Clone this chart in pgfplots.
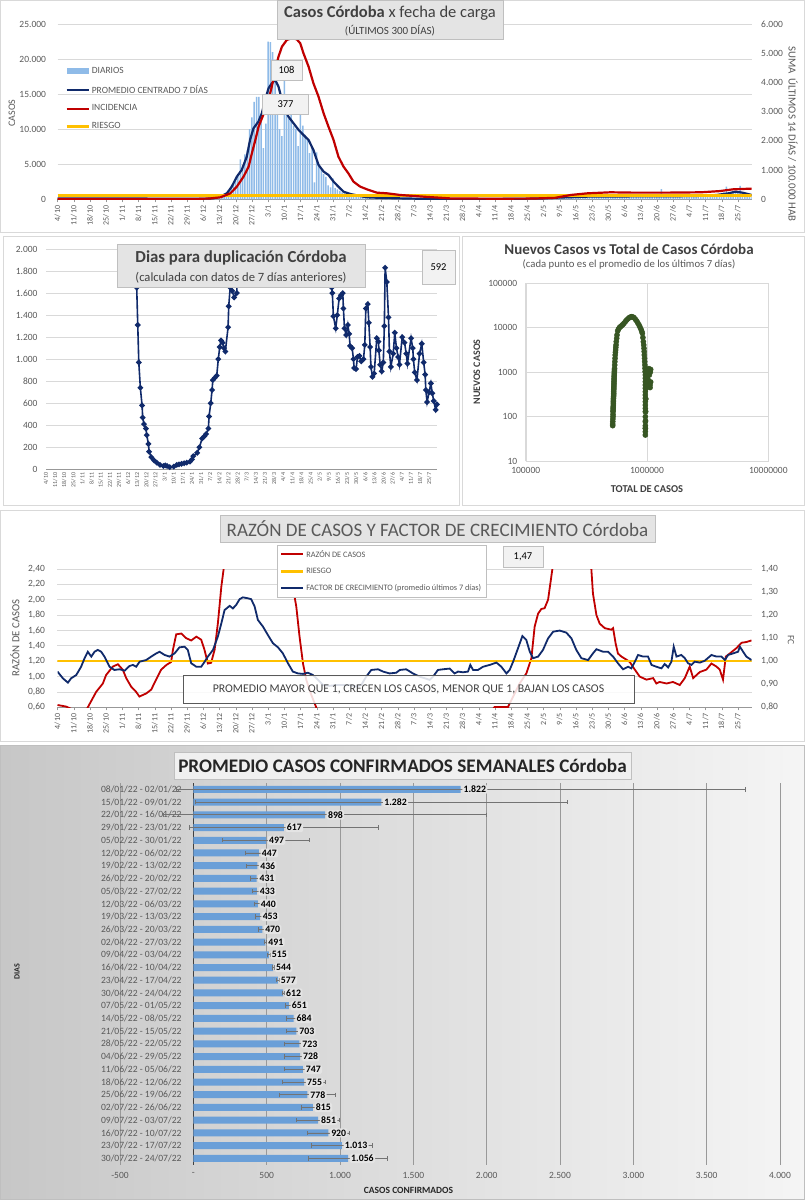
\documentclass[border=0pt]{standalone}
\usepackage{fontspec}
\setmainfont{Carlito}
\usepackage{pgfplots}
\pgfplotsset{compat=1.18}
\newcommand{\fs}[1]{\fontsize{#1}{#1}\selectfont}

\definecolor{navy}{HTML}{102A6B}
\definecolor{rojo}{HTML}{C00000}
\definecolor{amarillo}{HTML}{FFC000}
\definecolor{celeste}{HTML}{6A9FD8}
\definecolor{celesteclaro}{HTML}{8FBBE8}
\definecolor{verde}{HTML}{375623}
\definecolor{gristxt}{HTML}{595959}
\definecolor{grisosc}{HTML}{404040}
\definecolor{grilla}{HTML}{D9D9D9}
\definecolor{caja}{HTML}{E4E4E4}
\definecolor{borde}{HTML}{BFBFBF}

\pgfplotsset{
  lineleg/.style={legend image code/.code={\draw[##1] (0pt,0pt) -- (22pt,0pt);}},
  barleg/.style={legend image code/.code={\fill[##1] (0pt,-3pt) rectangle (22pt,3pt);}},
  base/.style={scale only axis, anchor=south west,
    /pgf/number format/assume math mode=true,
    tick label style={text=gristxt}},
  fechas/.style={xmin=0, xmax=300, xtick={0,7,...,294},
    xticklabels={4/10,11/10,18/10,25/10,1/11,8/11,15/11,22/11,29/11,6/12,13/12,20/12,27/12,3/1,10/1,17/1,24/1,31/1,7/2,14/2,21/2,28/2,7/3,14/3,21/3,28/3,4/4,11/4,18/4,25/4,2/5,9/5,16/5,23/5,30/5,6/6,13/6,20/6,27/6,4/7,11/7,18/7,25/7},
    x tick label style={rotate=90, anchor=east}},
  coma/.style={/pgf/number format/fixed, /pgf/number format/fixed zerofill,
    /pgf/number format/precision=2, /pgf/number format/use comma},
}

\begin{document}
\begin{tikzpicture}
\useasboundingbox (0pt,0pt) rectangle (805pt,-1200pt);
\fill[white] (0pt,0pt) rectangle (805pt,-1200pt);
% marcos de los paneles
\draw[grilla] (0.5pt,-0.5pt) rectangle (804.5pt,-232pt);
\draw[grilla] (3pt,-236pt) rectangle (459pt,-505pt);
\draw[grilla] (462pt,-236pt) rectangle (804.5pt,-505pt);
\draw[grilla] (0.5pt,-510pt) rectangle (804.5pt,-741pt);
\shade[left color=black!22, right color=black!4] (0pt,-745pt) rectangle (805pt,-1200pt);
\draw[borde] (0.5pt,-745pt) rectangle (804.5pt,-1199.5pt);

%% ---------- Panel 1: casos ----------
\begin{axis}[base, fechas, at={(57.5pt,-199.3pt)}, width=694.2pt, height=175.3pt,
  ymin=0, ymax=25000, ytick={0,5000,...,25000}, scaled y ticks=false,
  ymajorgrids, grid style={grilla, line width=0.8pt},
  axis x line*=bottom, axis y line*=left, y axis line style={draw=none},
  x axis line style={grilla!70!black}, ytick style={draw=none},
  xtick style={grilla!70!black}, tick align=outside, major tick length=3pt,
  y tick label style={font=\fs{9.5}, xshift=-5pt, /pgf/number format/1000 sep={.}},
  x tick label style={font=\fs{8}},
  lineleg, legend cell align=left,
  legend style={at={(0.0065,0.778)}, anchor=north west, draw=none, fill=none,
    font=\fs{9.5}, text=gristxt, row sep=6.3pt}]
\addplot[ybar, bar width=1.5pt, bar shift=0pt, fill=celesteclaro, draw=none, barleg] table {
x y
60 100
61 120
62 110
63 130
64 150
65 140
66 150
67 200
68 300
69 350
70 450
71 600
72 800
73 1000
74 1300
75 1900
76 2200
77 2700
78 3600
79 5700
80 4500
81 6400
82 7000
83 10000
84 11700
85 13900
86 14600
87 14600
88 11000
89 7300
90 10800
91 22500
92 22400
93 21000
94 17500
95 14000
96 10000
97 9000
98 17500
99 12000
100 11500
101 12000
102 10500
103 10000
104 7600
105 12000
106 10500
107 9200
108 8500
109 6600
110 7500
111 2400
112 6700
113 5000
114 4200
115 3600
116 3200
117 2000
118 1700
119 3000
120 1600
121 1400
122 1200
123 1000
124 900
125 800
126 700
127 600
128 500
129 400
130 450
131 350
132 300
133 280
134 250
135 220
137 200
139 170
141 150
143 130
145 120
147 110
149 100
151 90
153 80
155 70
157 60
159 60
161 50
163 50
165 45
167 40
169 40
171 40
173 45
175 45
177 50
179 50
181 55
183 55
185 60
187 60
189 65
191 70
193 70
195 75
197 80
199 85
201 90
203 100
205 120
207 150
209 180
211 250
212 280
213 300
214 320
215 330
216 300
217 350
218 380
219 360
220 400
221 380
222 420
223 350
224 400
225 450
226 420
227 380
228 400
229 450
230 500
231 420
232 380
233 400
234 450
235 500
236 420
237 400
238 380
239 450
240 480
241 400
242 350
243 420
244 460
245 380
246 400
247 450
248 420
249 380
250 400
251 450
252 480
253 420
254 380
255 400
256 450
257 420
258 400
259 380
260 500
261 1450
262 420
263 400
264 450
265 380
266 420
267 460
268 400
269 380
270 420
271 450
272 480
273 400
274 420
275 460
276 500
277 450
278 420
279 480
280 520
281 500
282 460
283 550
284 600
285 700
286 800
287 900
288 1000
289 1800
290 900
291 1000
292 1100
293 1200
294 1000
295 1900
296 900
297 700
298 600
299 500
300 400
};
\addlegendentry{DIARIOS}
\addplot[navy, line width=2.2pt] coordinates {
(0,120) (20,110) (40,100) (60,90) (65,100) (67.4,150) (70.4,380) (73.2,855)
(75.3,1800) (77.5,3230) (79.6,4180) (81.8,6080) (83.2,8460) (84.7,10120)
(86.8,11070) (88.3,12260) (89.7,14160) (91.2,15830) (92.6,16540) (94.1,17020)
(95.5,16070) (97,14160) (98.4,12740) (99.8,11790) (102,10840) (104.2,9890)
(106.3,9170) (108.5,8460) (110.6,7030) (112.8,4900) (115,3950) (117.1,3470)
(119.3,2520) (121.4,1800) (123.6,1090) (126.5,760) (130.8,475) (133.7,285)
(140,200) (150,120) (160,60) (170,40) (180,50) (190,60) (200,80) (210,130)
(217,250) (225,330) (229,380) (240,400) (250,420) (260,430) (270,450)
(280,500) (285,620) (290,855) (293,1090) (296,950) (300,620)};
\addlegendentry{PROMEDIO CENTRADO 7 DÍAS}
\addlegendimage{rojo, line width=2.2pt}
\addlegendentry{INCIDENCIA}
\addplot[amarillo, line width=2.6pt] coordinates {(0,500) (300,500)};
\addlegendentry{RIESGO}
\end{axis}
\begin{axis}[base, at={(57.5pt,-199.3pt)}, width=694.2pt, height=175.3pt,
  xmin=0, xmax=300, ymin=0, ymax=6000, ytick={0,1000,...,6000}, scaled y ticks=false,
  axis x line=none, axis y line*=right, y axis line style={draw=none}, ytick style={draw=none},
  y tick label style={font=\fs{9.5}, xshift=6pt, /pgf/number format/1000 sep={.}}]
\addplot[rojo, line width=2.2pt] coordinates {
(0,12) (60,12) (66,30) (70.4,68) (74.7,205) (77.5,434) (80.4,776) (82.6,1118)
(84,1575) (85.5,2031) (86.9,2487) (89.2,2944) (91.2,3400) (92.6,3857) (94.1,4427)
(95.5,4883) (97,5226) (99.1,5454) (101.3,5511) (103.4,5477) (104.9,5340)
(106.3,4998) (108.5,4541) (110.6,3971) (112.8,3514) (115,2944) (117.1,2487)
(119.3,2031) (121.4,1460) (123.6,1118) (125.7,890) (127.9,605) (130.8,434)
(133.7,342) (138,228) (142.4,205) (148.1,148) (160,80) (170,30) (190,20)
(205,25) (215,50) (222,150) (229,205) (239,240) (249,228) (263,228) (278,240)
(286,280) (292,342) (300,365)};
\end{axis}
\node[fill=caja, draw=borde, minimum width=226pt, minimum height=39pt] at (390pt,-19.5pt) {};
\node[text=grisosc, font=\fs{16.5}] at (390pt,-13pt) {\textbf{Casos Córdoba} x fecha de carga};
\node[text=grisosc, font=\fs{11}] at (390pt,-30.5pt) {(ÚLTIMOS 300 DÍAS)};
\node[fill=white!95!black, draw=borde, minimum width=31pt, minimum height=20pt, font=\fs{10.5}, text=black] at (286.5pt,-70pt) {108};
\node[fill=white!95!black, draw=borde, minimum width=46pt, minimum height=20pt, font=\fs{10.5}, text=black] at (285.5pt,-104pt) {377};
\node[rotate=90, text=gristxt, font=\fs{10}] at (12pt,-113pt) {CASOS};
\node[rotate=-90, text=gristxt, font=\fs{10.8}] at (793pt,-134pt) {SUMA\ \ ÚLTIMOS 14 DÍAS / 100.000 HAB};

%% ---------- Panel 2: días para duplicación ----------
\begin{axis}[base, fechas, at={(46pt,-469.3pt)}, width=391pt, height=220.3pt,
  ymin=0, ymax=2000, ytick={0,200,...,2000}, scaled y ticks=false,
  ymajorgrids, grid style={grilla, line width=0.8pt},
  axis x line*=bottom, axis y line*=left, y axis line style={draw=none},
  x axis line style={grilla!70!black}, ytick style={draw=none}, xtick style={draw=none},
  y tick label style={font=\fs{9.5}, xshift=-5pt, /pgf/number format/1000 sep={.}},
  x tick label style={font=\fs{6}}]
\addplot[navy, line width=1.6pt, mark=*, mark size=1.9pt] coordinates {
(68.5,2600) (69.6,1650) (70.4,1310) (71.2,970) (72.4,740) (73.7,580) (74.2,470)
(75.2,410) (76.7,370) (77.3,310) (78.6,230) (79.1,160) (80.8,110) (82.9,80)
(85,60) (87.5,40) (90,30) (91.5,35) (93,30) (95,20) (98,25) (100.3,40) (102,45)
(104,50) (106,55) (108,60) (110.5,70) (112,90) (113,120) (116,150) (117.7,200)
(119.8,280) (121.5,300) (122.8,320) (124.6,370) (125.1,480) (126.4,600)
(127.4,720) (128,810) (129.5,830) (131,850) (132.2,1000) (133.3,1110)
(134.3,1170) (135.5,1150) (136.6,1100) (137.6,1070) (139.7,1290) (140.2,1480)
(141.3,1650) (142.8,1620) (144.4,1560) (146.4,1600) (147.2,2600)};
\addplot[navy, line width=1.6pt, mark=*, mark size=1.9pt] coordinates {
(218.8,2600) (219.2,1650) (219.7,1600) (220.5,1390) (222.3,1280) (223.5,1400)
(224.9,1550) (226.3,1580) (227.7,1600) (228.2,1460) (229,1280) (230.3,1220)
(231.6,1310) (232.6,1230) (233.3,1120) (234.9,1100) (235.9,1000) (236.4,920)
(237.9,910) (239,1020) (240.5,1030) (241.8,980) (243.6,1000) (244.6,1130)
(245.4,1460) (246.9,1500) (247.7,1330) (248.7,1110) (249.3,930) (250.5,840)
(251.8,870) (253.8,1190) (255.1,1160) (255.4,1080) (256.4,950) (257.6,890)
(258.8,970) (259.6,1300) (260.2,1830) (261.5,1700) (262.8,1380) (263.5,1070)
(264.6,930) (266.4,1050) (267.6,1240) (268.9,1100) (270.2,1020) (271.2,950)
(273.3,1200) (275.1,1150) (276.4,1050) (277.3,960) (280.1,1190) (281.4,1100)
(281.9,1000) (282.9,880) (284.6,810) (286.6,1050) (288.3,1140) (289.8,970)
(290.9,860) (291.4,720) (292.4,610) (293.9,700) (295.3,780) (296.4,690)
(297.5,620) (299,540) (300,590)};
\end{axis}
\node[fill=caja, draw=borde, minimum width=248pt, minimum height=43pt] at (241pt,-265.5pt) {};
\node[text=grisosc, font=\fs{16.8}\bfseries] at (241pt,-257.5pt) {Dias para duplicación Córdoba};
\node[text=grisosc, font=\fs{12.6}] at (241pt,-278pt) {(calculada con datos de 7 días anteriores)};
\node[fill=white!95!black, draw=borde, minimum width=33pt, minimum height=34pt, font=\fs{10.5}, text=black] at (438.5pt,-267pt) {592};

%% ---------- Panel 3: nuevos vs total ----------
\begin{axis}[base, at={(525.7pt,-461pt)}, width=242.6pt, height=177.7pt,
  xmode=log, ymode=log, xmin=1e5, xmax=1e7, ymin=10, ymax=1e5,
  xtick={1e5,1e6,1e7}, ytick={10,100,1000,10000,100000},
  xminorticks=false, yminorticks=false,
  log ticks with fixed point,
  grid=major, grid style={grilla, line width=0.8pt}, axis line style={grilla},
  tick style={draw=none},
  y tick label style={font=\fs{9.5}, xshift=-5pt, /pgf/number format/1000 sep={}},
  x tick label style={font=\fs{9.5}, yshift=-3pt, /pgf/number format/1000 sep={}}]
\addplot[only marks, mark=*, mark size=2.6pt, verde] coordinates {
(521200,62.5) (521200,68) (522000,76.9) (523000,88) (524600,99.6) (524600,112)
(524600,129) (525500,140) (526000,153) (526500,165) (527900,182) (527900,200)
(527900,217) (528500,235) (529000,258) (530000,280) (531300,306) (531300,335)
(531300,364) (532000,400) (532500,433) (533000,470) (533500,514) (534000,560)
(534600,611) (535000,670) (535500,726) (536000,800) (537000,864) (537500,950)
(538000,1026) (539000,1120) (540000,1220) (541400,1450) (543000,1724)
(545000,2048) (547000,2435) (549000,2800) (551000,3155) (553000,3600)
(555300,4089) (558000,4861) (562300,5778) (566000,6868) (573100,8450)
(582000,9300) (591600,10040) (605000,10600) (618400,11140) (632000,11800)
(646300,12570) (662000,13700) (679800,14940) (697000,15900) (715100,16870)
(731000,17400) (747400,17760) (764000,17400) (781400,16870) (801000,15500)
(821900,14190) (840000,12800) (859300,11530) (876000,10300) (892500,9215)
(905000,8300) (915200,7488) (925000,6000) (932800,4861) (939000,4100)
(944700,3440) (948000,2900) (950600,2435) (954000,2050) (956800,1724)
(960000,1450) (962800,1220) (965000,1026) (968900,864) (968900,726)
(968900,611) (968900,514) (968900,433) (968900,364) (968900,306) (968900,258)
(968900,217) (968900,182) (968900,153) (968900,129) (968900,99.6) (968900,76.9)
(968900,62.5) (968900,54.4) (968900,45.8) (968900,38.5) (970000,54) (972000,80)
(975000,130) (978000,250) (981300,433) (985000,600) (990000,800) (993800,1026)
(1000000,1150) (1006000,900) (1015000,700) (1026000,1100) (1035000,1200)
(1045000,864) (1050000,600) (1059000,514) (1065000,1000) (1072000,1150)
(1072000,600) (1060000,450)};
\end{axis}
\node[text=grisosc, font=\fs{15}\bfseries] at (629pt,-249pt) {Nuevos Casos vs Total de Casos Córdoba};
\node[text=gristxt, font=\fs{10.7}] at (629pt,-264.5pt) {(cada punto es el promedio de los últimos 7 días)};
\node[rotate=90, text=grisosc, font=\fs{10}\bfseries] at (477pt,-372pt) {NUEVOS CASOS};
\node[text=grisosc, font=\fs{10.5}\bfseries] at (647pt,-489pt) {TOTAL DE CASOS};

%% ---------- Panel 4: razón de casos y FC ----------
\begin{axis}[base, fechas, at={(57.5pt,-707.3pt)}, width=694.2pt, height=138.3pt,
  ymin=0.6, ymax=2.4, ytick={0.6,0.8,...,2.41},
  ymajorgrids, grid style={grilla, line width=0.8pt},
  axis x line*=bottom, axis y line*=left, y axis line style={draw=none},
  x axis line style={grilla!70!black}, ytick style={draw=none},
  xtick style={grilla!70!black}, tick align=outside, major tick length=3pt,
  y tick label style={font=\fs{9.5}, xshift=-6pt, coma},
  x tick label style={font=\fs{8}},
  lineleg, legend cell align=left,
  legend style={at={(0.316,1.174)}, anchor=north west, draw=borde, fill=white,
    font=\fs{8.3}, text=gristxt, row sep=5.5pt, inner sep=3pt}]
\addplot[rojo, line width=1.8pt] coordinates {
(0,0.63) (3.7,0.61) (5.9,0.58) (9,0.55) (12,0.55) (13.1,0.60) (16.7,0.80)
(19.6,0.91) (21,1.02) (23.9,1.13) (26.1,1.16) (28.2,1.09) (29.7,0.98) (31.8,0.87)
(34,0.80) (35.4,0.74) (38.3,0.78) (40.5,0.83) (42.6,0.96) (44.8,1.09) (47,1.15)
(49.1,1.19) (49.9,1.35) (51.3,1.55) (53.5,1.56) (55.6,1.50) (57.8,1.47) (60,1.52)
(62.1,1.48) (63.5,1.35) (65,1.17) (66.4,1.18) (67.9,1.35) (69.3,1.69) (70.8,2.17)
(71.8,2.40) (73,3.0) (80,5) (95,5) (101,3.0) (101.7,2.17) (103.2,1.91) (104.6,1.52)
(106.1,1.17) (107.5,0.96) (109.7,0.76) (111.8,0.60) (113,0.5) (120,0.4) (150,0.3)
(180,0.4) (186,0.5) (188.9,0.605) (194.7,0.605) (196.9,0.74) (199.7,0.91)
(202.6,1.04) (204.8,1.24) (206.2,1.65) (207.7,1.82) (209.1,1.88) (210.5,1.89)
(212,2.0) (213.4,2.30) (214.1,2.45) (215,3.0) (220,5) (230,3.0) (230.7,2.40)
(231.4,2.08) (232.9,1.80) (234.3,1.69) (236.5,1.63) (239.4,1.61) (240.1,1.63)
(241.2,1.43) (242.2,1.30) (243.7,1.26) (245.9,1.22) (247.3,1.19) (249.5,1.09)
(251.6,1.00) (254.5,0.96) (257.4,0.98) (258.8,0.91) (260.2,0.93) (263.2,0.91)
(266,0.93) (268.9,0.89) (271.1,0.98) (273.2,1.13) (274.7,0.98) (277.6,1.06)
(280.4,1.09) (282.6,1.17) (284.8,1.13) (286.2,1.09) (287.6,0.96) (288.8,1.26)
(290.5,1.30) (293.4,1.37) (295.6,1.44) (297.7,1.45) (299.9,1.47)};
\addlegendentry{RAZÓN DE CASOS}
\addplot[amarillo, line width=2.2pt] coordinates {(0,1.2) (300,1.2)};
\addlegendentry{RIESGO}
\addlegendimage{navy, line width=1.8pt}
\addlegendentry{FACTOR DE CRECIMIENTO (promedio últimos 7 días)}
\end{axis}
\begin{axis}[base, at={(57.5pt,-707.3pt)}, width=694.2pt, height=138.3pt,
  xmin=0, xmax=300, ymin=0.8, ymax=1.4, ytick={0.8,0.9,...,1.41},
  axis x line=none, axis y line*=right, y axis line style={draw=none}, ytick style={draw=none},
  y tick label style={font=\fs{9.5}, xshift=6pt, coma}]
\addplot[navy, line width=1.8pt] coordinates {
(0,0.955) (2.3,0.926) (4.5,0.907) (5.9,0.926) (8.1,0.940) (10.2,0.976) (11.7,1.013)
(13.1,1.041) (14.6,1.020) (16,1.041) (17.4,1.049) (18.9,1.041) (20.3,1.020)
(22.5,0.976) (24.6,0.962) (26.8,0.965) (29,0.959) (31.1,0.979) (32.6,0.984)
(34,0.976) (35.5,0.998) (38.3,1.005) (40.5,1.020) (42.7,1.034) (44.1,1.041)
(46.3,1.027) (48.4,1.020) (50.6,1.034) (52.7,1.060) (54.9,1.063) (56.3,1.049)
(57.8,0.991) (60,0.976) (62.1,0.976) (63.6,0.998) (65,1.020) (67.2,1.049)
(69.3,1.107) (70.8,1.164) (72.2,1.222) (74.4,1.240) (75.8,1.229) (77.2,1.244)
(78.7,1.269) (80.1,1.277) (82.3,1.273) (83.7,1.269) (85.2,1.237) (86.6,1.179)
(88.8,1.150) (90.9,1.114) (93.1,1.078) (95.3,1.060) (97.4,1.034) (99.6,0.991)
(101.7,0.955) (103.9,0.947) (106.1,0.945) (108.2,0.950) (110.4,0.940)
(112.6,0.919) (114.7,0.897) (117.6,0.893) (120.5,0.897) (123.4,0.897)
(126.2,0.897) (129.1,0.890) (131.3,0.897) (133.4,0.933) (135.6,0.962)
(138.5,0.965) (140.7,0.955) (143.5,0.947) (146.4,0.950) (147.9,0.962)
(150.7,0.965) (153.6,0.947) (156.5,0.933) (158.7,0.926) (160.8,0.919)
(162.3,0.933) (164.4,0.962) (166.6,0.965) (169.5,0.968) (171.6,0.947)
(173.1,0.955) (175.2,0.952) (177.4,0.955) (178.4,0.984) (179.6,0.962)
(181.7,0.962) (183.9,0.976) (186.8,0.984) (189.7,0.994) (191.8,0.976) (194,0.947)
(195.4,0.962) (196.9,0.998) (199,1.056) (200.9,1.109) (202.6,1.092) (204.1,1.041)
(205.5,1.013) (207.7,1.020) (209.8,1.049) (212,1.099) (214.2,1.128) (217,1.133)
(219.9,1.124) (222.1,1.099) (224.2,1.049) (226.4,1.013) (229.3,1.005)
(231.4,1.034) (232.9,1.052) (235.8,1.041) (237.9,1.041) (240.1,1.020)
(242.2,0.991) (244.4,0.965) (246.6,0.976) (248,0.969) (249.5,0.998) (250.9,1.027)
(253.1,1.020) (255.2,1.020) (256.7,0.984) (258.8,0.976) (261,0.969) (262.4,0.988)
(263.9,0.973) (265.3,0.998) (266.3,1.063) (267.5,1.020) (269.6,1.027)
(271.1,1.013) (272.5,0.991) (274,0.984) (275.4,0.998) (277.6,0.994) (279.7,1.002)
(282.6,1.027) (284.8,1.020) (286.9,1.020) (288.4,1.005) (289.8,1.027) (292,1.034)
(294.1,1.041) (294.9,1.063) (296.3,1.041) (297.7,1.020) (299.9,1.005)};
\end{axis}
\node[fill=caja, draw=borde, minimum width=435pt, minimum height=27pt] at (437.5pt,-528.5pt) {};
\node[text=gristxt, font=\fs{19}] at (437.5pt,-529pt) {RAZÓN DE CASOS Y FACTOR DE CRECIMIENTO Córdoba};
\node[fill=white!95!black, draw=borde, minimum width=40pt, minimum height=21pt, font=\fs{10.5}, text=black] at (523pt,-556.5pt) {1,47};
\node[fill=white, fill opacity=0.85, text opacity=1, draw=gristxt, minimum width=451pt, minimum height=28pt, font=\fs{11.8}, text=grisosc] at (408.5pt,-689pt) {PROMEDIO MAYOR QUE 1, CRECEN LOS CASOS, MENOR QUE 1, BAJAN LOS CASOS};
\node[rotate=90, text=gristxt, font=\fs{10.8}] at (15pt,-638pt) {RAZÓN DE CASOS};
\node[rotate=-90, text=gristxt, font=\fs{9.5}] at (791pt,-640pt) {FC};

%% ---------- Panel 5: promedio semanal ----------
\begin{axis}[base, at={(120pt,-1164.7pt)}, width=660pt, height=381.7pt,
  xbar, bar width=7pt, xmin=-500, xmax=4000, ymin=0.5, ymax=30.5, y dir=reverse,
  xtick={-500,0,...,4000},
  xticklabels={-500,-,500,1.000,1.500,2.000,2.500,3.000,3.500,4.000},
  ytick={1,...,30},
  yticklabels={08/01/22 - 02/01/22,15/01/22 - 09/01/22,22/01/22 - 16/01/22,29/01/22 - 23/01/22,05/02/22 - 30/01/22,12/02/22 - 06/02/22,19/02/22 - 13/02/22,26/02/22 - 20/02/22,05/03/22 - 27/02/22,12/03/22 - 06/03/22,19/03/22 - 13/03/22,26/03/22 - 20/03/22,02/04/22 - 27/03/22,09/04/22 - 03/04/22,16/04/22 - 10/04/22,23/04/22 - 17/04/22,30/04/22 - 24/04/22,07/05/22 - 01/05/22,14/05/22 - 08/05/22,21/05/22 - 15/05/22,28/05/22 - 22/05/22,04/06/22 - 29/05/22,11/06/22 - 05/06/22,18/06/22 - 12/06/22,25/06/22 - 19/06/22,02/07/22 - 26/06/22,09/07/22 - 03/07/22,16/07/22 - 10/07/22,23/07/22 - 17/07/22,30/07/22 - 24/07/22},
  axis x line*=bottom, axis y line*=middle,
  x axis line style={draw=none}, y axis line style={black!75, line width=1.4pt},
  tick style={draw=none},
  xmajorgrids, grid style={black!40, line width=0.8pt},
  x tick label style={font=\fs{9.5}, yshift=-4pt},
  y tick label style={font=\fs{9.6}, xshift=-4pt},
  point meta=x,
  nodes near coords={\pgfmathprintnumber[fixed, precision=0, 1000 sep={.}, assume math mode=true]{\pgfplotspointmeta}},
  every node near coord/.append style={font=\fs{9.8}\bfseries, text=black, fill=caja,
    inner sep=1.3pt, rounded corners=1.5pt, xshift=1.5pt}]
\addplot[fill=celeste, draw=none,
  error bars/.cd, x dir=both, x explicit,
  error bar style={black!55, line width=0.8pt},
  error mark options={black!55, line width=0.8pt, mark size=2.2pt, rotate=90}]
coordinates {
(1822,1) +- (1940,0)
(1282,2) +- (1266,0)
(898,3) +- (1100,0)
(617,4) +- (644,0)
(497,5) +- (297,0)
(447,6) +- (93,0)
(436,7) +- (71,0)
(431,8) +- (42,0)
(433,9) +- (33,0)
(440,10) +- (27,0)
(453,11) +- (28,0)
(470,12) +- (23,0)
(491,13) +- (6,0)
(515,14) +- (8,0)
(544,15) +- (6,0)
(577,16) +- (12,0)
(612,17) +- (6,0)
(651,18) +- (22,0)
(684,19) +- (50,0)
(703,20) +- (69,0)
(723,21) +- (101,0)
(728,22) +- (110,0)
(747,23) +- (129,0)
(755,24) +- (148,0)
(778,25) +- (188,0)
(815,26) +- (79,0)
(851,27) +- (145,0)
(920,28) +- (145,0)
(1013,29) +- (210,0)
(1056,30) +- (270,0)};
\end{axis}
\node[fill=white!94!black, draw=borde, minimum width=457pt, minimum height=27pt] at (402.5pt,-765.5pt) {};
\node[text=black!85, font=\fs{19.2}\bfseries] at (402.5pt,-766pt) {PROMEDIO CASOS CONFIRMADOS SEMANALES Córdoba};
\node[rotate=90, text=black!85, font=\fs{8}\bfseries] at (17pt,-972pt) {DIAS};
\node[text=black!85, font=\fs{9.5}\bfseries] at (408.5pt,-1190pt) {CASOS CONFIRMADOS};
\end{tikzpicture}
\end{document}
